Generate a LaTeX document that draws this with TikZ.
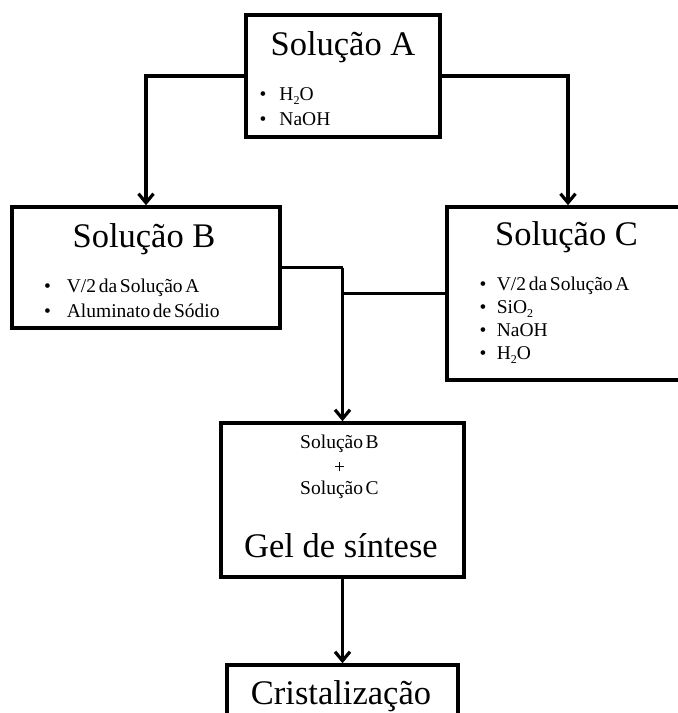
\documentclass[tikz,border=0pt]{standalone}
\usepackage{fontspec}
\setmainfont{Liberation Serif}
\newfontfamily\smallf[WordSpace=0.55]{Liberation Serif}
\usetikzlibrary{arrows.meta}
\tikzset{
  box/.style={draw, line width=3.6pt, inner sep=0pt, rectangle},
  conn/.style={line width=3.2pt},
  arr/.style={conn, -{Straight Barb[length=9pt,width=15pt]}},
  title/.style={anchor=base, inner sep=0pt, font=\fontsize{34.5}{40}\selectfont},
  itm/.style={anchor=base west, inner sep=0pt, font=\smallf\fontsize{19.5}{22}\selectfont},
  ctr/.style={anchor=base, inner sep=0pt, font=\smallf\fontsize{19.5}{22}\selectfont},
}
\newcommand\bl[2][14pt]{\llap{\textbullet\hspace{#1}}#2}
\newcommand\sbs[1]{\raisebox{-0.22em}{\fontsize{12}{12}\selectfont #1}}
\begin{document}
\begin{tikzpicture}[x=1pt,y=-1pt]
\useasboundingbox (0,0) rectangle (678,713);
\clip (0,0) rectangle (678,713);
% boxes
\node[box, minimum width=194pt, minimum height=122pt] (A) at (343,76) {};
\node[box, minimum width=268pt, minimum height=121pt] (B) at (146,267.5) {};
\node[box, minimum width=242pt, minimum height=173pt] (C) at (568,293.5) {};
\node[box, minimum width=243pt, minimum height=154pt] (Gel) at (342.5,500) {};
\node[box, minimum width=231pt, minimum height=74pt] (Cr) at (342.5,702) {};
% titles
\node[title] (tA) at (343,55) {Solução A};
\node[title] (tB) at (144,247) {Solução B};
\node[title] (tC) at (566.5,245.5) {Solução C};
\node[title] (tG) at (341,557) {Gel de síntese};
\node[title] (tCr) at (341,704) {Cristalização};
% items A
\node[itm] (a1) at (279.3,100) {\bl[13pt]{H\sbs{2}O}};
\node[itm] (a2) at (279.3,125.7) {\bl[13pt]{NaOH}};
% items B
\node[itm] (b1) at (66.7,292) {\bl[16pt]{V/2 da Solução A}};
\node[itm] (b2) at (66.7,317) {\bl[16pt]{Aluminato de Sódio}};
% items C
\node[itm] (c1) at (496.7,290.7) {\bl[10.5pt]{V/2 da Solução A}};
\node[itm] (c2) at (496.7,313.3) {\bl[10.5pt]{SiO\sbs{2}}};
\node[itm] (c3) at (496.7,336.7) {\bl[10.5pt]{NaOH}};
\node[itm] (c4) at (496.7,359) {\bl[10.5pt]{H\sbs{2}O}};
% gel texts
\node[ctr] (g1) at (339.5,448.3) {Solução B};
\node[ctr] (g2) at (339.5,473) {+};
\node[ctr] (g3) at (339.5,494) {Solução C};
% connectors
\draw[arr] (A.west) -| (B.north);
\draw[arr] (A.east) -| (C.north);
\draw[conn, line width=2.4pt] (B.east) -- (B.east -| Gel.north);
\draw[arr] (B.east -| Gel.north) -- (Gel.north);
\draw[conn] (C.west) -- (C.west -| Gel.north);
\draw[arr] (Gel.south) -- (Cr.north);
\end{tikzpicture}
\end{document}
